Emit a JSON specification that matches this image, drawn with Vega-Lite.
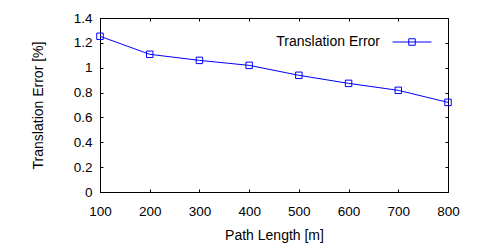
{
  "$schema": "https://vega.github.io/schema/vega-lite/v6.json",
  "width": 348,
  "height": 174,
  "autosize": {"type": "none"},
  "padding": {"left": 100, "top": 18, "right": 52, "bottom": 58},
  "background": "white",
  "config": {
    "view": {"stroke": "black", "strokeWidth": 1},
    "font": "Liberation Sans",
    "axis": {
      "grid": false,
      "domainColor": "black",
      "tickColor": "black",
      "tickSize": -3,
      "labelColor": "black",
      "labelFont": "Liberation Sans",
      "labelFontSize": 13.5,
      "titleFont": "Liberation Sans",
      "titleFontSize": 14,
      "titleFontWeight": "normal",
      "titleColor": "black"
    }
  },
  "data": {
    "values": [
      {"len": 100, "err": 1.253, "series": "Translation Error"},
      {"len": 200, "err": 1.108, "series": "Translation Error"},
      {"len": 300, "err": 1.059, "series": "Translation Error"},
      {"len": 400, "err": 1.019, "series": "Translation Error"},
      {"len": 500, "err": 0.939, "series": "Translation Error"},
      {"len": 600, "err": 0.874, "series": "Translation Error"},
      {"len": 700, "err": 0.818, "series": "Translation Error"},
      {"len": 800, "err": 0.721, "series": "Translation Error"}
    ]
  },
  "layer": [
    {
      "encoding": {
        "x": {"field": "len", "type": "quantitative", "scale": {"domain": [100, 800], "nice": false, "zero": false},
              "axis": {"title": "Path Length [m]", "values": [100, 200, 300, 400, 500, 600, 700, 800], "labelPadding": 15, "titlePadding": 11, "labelFlush": false}},
        "y": {"field": "err", "type": "quantitative", "scale": {"domain": [0, 1.4], "nice": false},
              "axis": {"title": "Translation Error [%]", "format": "~g", "values": [0, 0.2, 0.4, 0.6, 0.8, 1, 1.2, 1.4], "labelPadding": 11, "titlePadding": 28, "labelFlush": false}}
      },
      "layer": [
        {
          "mark": {"type": "line", "strokeWidth": 1, "clip": true},
          "encoding": {
            "color": {"field": "series", "type": "nominal", "scale": {"range": ["#0000ff"]},
                      "legend": {
                        "title": null,
                        "orient": "none",
                        "legendX": 292,
                        "legendY": 4,
                        "padding": 0,
                        "symbolType": "M-1,0H1M-0.167,-0.167H0.167V0.167H-0.167Z",
                        "symbolSize": 1521,
                        "symbolStrokeWidth": 1,
                        "symbolFillColor": "transparent",
                        "symbolStrokeColor": "#0000ff",
                        "labelAlign": "right",
                        "labelOffset": -52,
                        "labelFontSize": 14,
                        "labelFont": "Liberation Sans",
                        "labelColor": "black"
                      }}
          }
        },
        {
          "mark": {"type": "point", "shape": "square", "size": 42, "filled": false, "stroke": "#0000ff", "strokeWidth": 1, "opacity": 1}
        }
      ]
    },
    {
      "mark": {"type": "point", "opacity": 0},
      "encoding": {
        "x": {"field": "len", "type": "quantitative", "scale": {"domain": [100, 800], "nice": false, "zero": false},
              "axis": {"orient": "top", "title": null, "labels": false, "domain": false, "values": [100, 200, 300, 400, 500, 600, 700, 800]}},
        "y": {"field": "err", "type": "quantitative", "scale": {"domain": [0, 1.4], "nice": false},
              "axis": {"orient": "right", "title": null, "labels": false, "domain": false, "values": [0, 0.2, 0.4, 0.6, 0.8, 1, 1.2, 1.4]}}
      }
    }
  ],
  "resolve": {"scale": {"x": "independent", "y": "independent"}}
}
